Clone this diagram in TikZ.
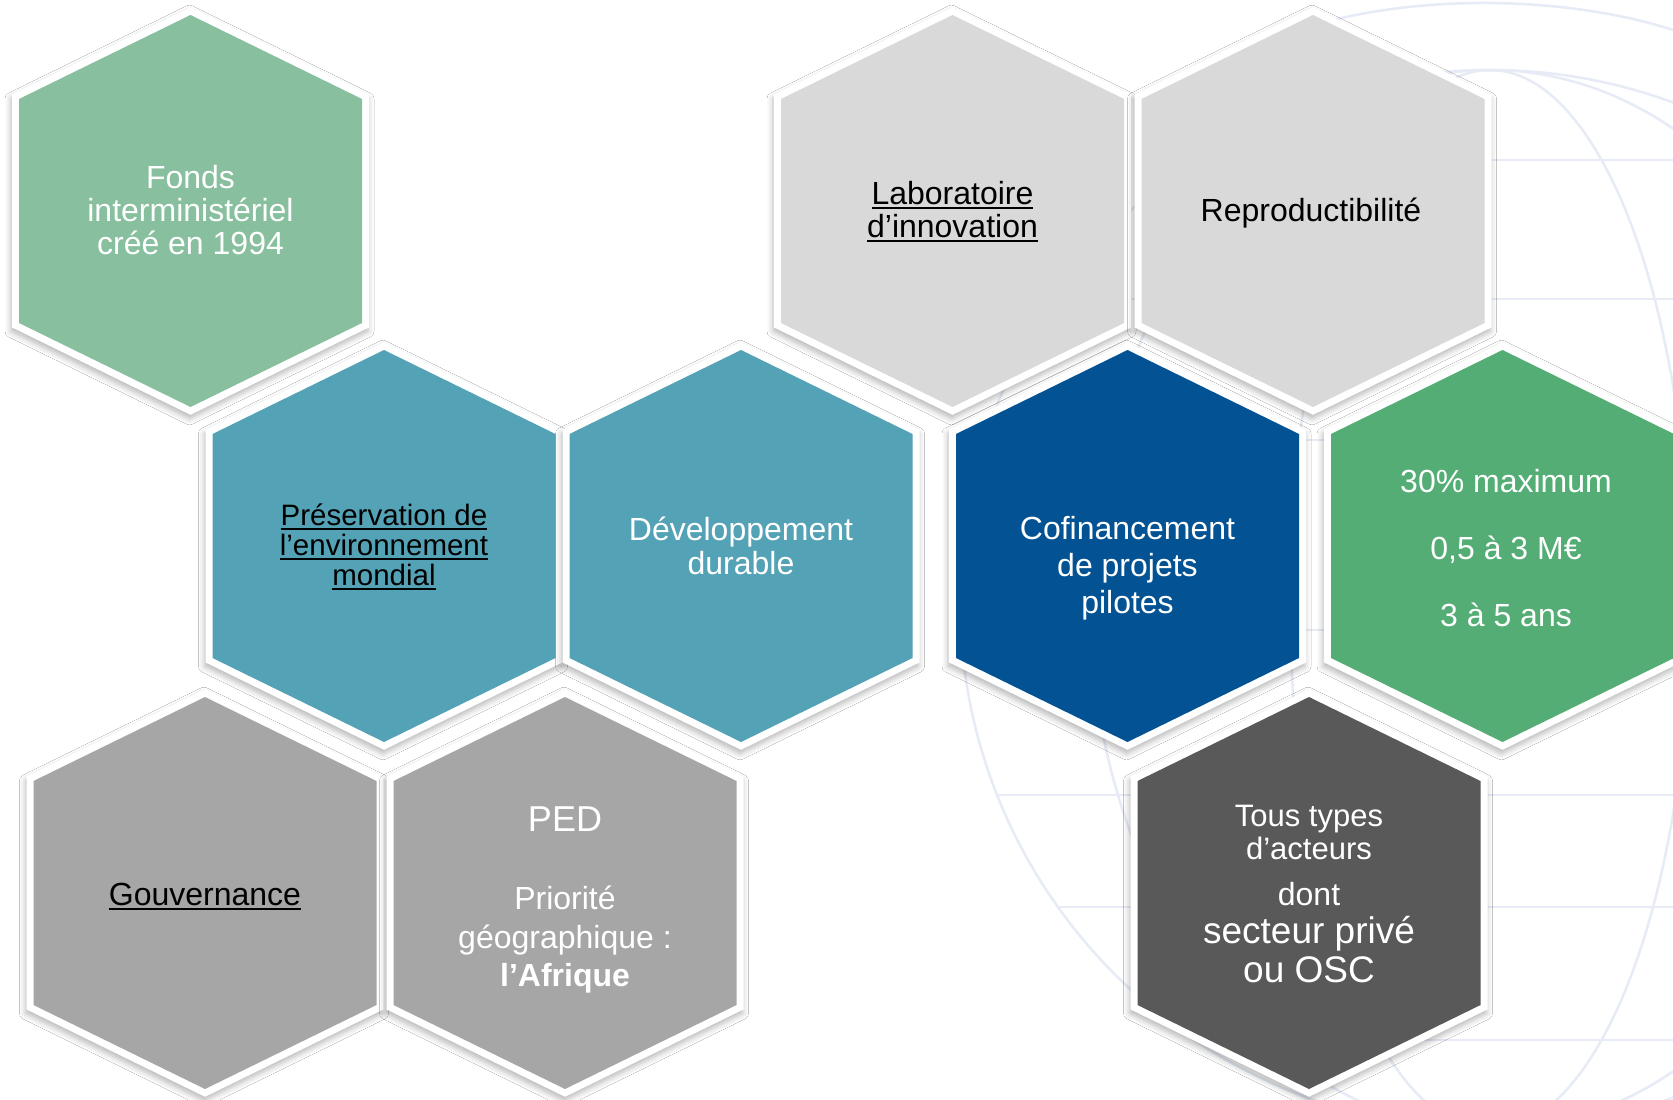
\documentclass[tikz,border=0pt]{standalone}
\usepackage{fontspec}
\setmainfont{Liberation Sans}
\usetikzlibrary{shadows.blur}
\definecolor{sage}{RGB}{136,191,159}
\definecolor{teal}{RGB}{84,162,182}
\definecolor{lgray}{RGB}{217,217,217}
\definecolor{navy}{RGB}{3,82,147}
\definecolor{leaf}{RGB}{83,173,116}
\definecolor{mgray}{RGB}{166,166,166}
\definecolor{dgray}{RGB}{89,89,89}
\definecolor{globec}{RGB}{230,235,245}
\newcommand\ulx[1]{\leavevmode\setbox0\hbox{#1}\rlap{\rule[-4.5pt]{\wd0}{2pt}}\box0}
\newcommand\hexcell[3]{%
  \fill[white, blur shadow={shadow xshift=-1pt, shadow yshift=-4pt, shadow blur radius=6pt, shadow opacity=28}]
   ({#1-178.5},{#2-116.4}) -- ({#1},{#2-203.8}) -- ({#1+178.5},{#2-116.4}) -- ({#1+178.5},{#2+116.4}) -- ({#1},{#2+203.8}) -- ({#1-178.5},{#2+116.4}) -- cycle;
  \fill[#3] ({#1-171.5},{#2-112}) -- ({#1},{#2-196}) -- ({#1+171.5},{#2-112}) -- ({#1+171.5},{#2+112}) -- ({#1},{#2+196}) -- ({#1-171.5},{#2+112}) -- cycle;
}
\begin{document}
\begin{tikzpicture}[x=1pt,y=-1pt,
  lbl/.style={align=center, font=\fontsize{32}{33}\selectfont, inner sep=0pt},
  globe/.style={draw=globec, line width=2.5pt}]
\useasboundingbox (0,0) rectangle (1673,1100);
\fill[white] (0,0) rectangle (1673,1100);
% background globe
\begin{scope}
\clip (0,0) rectangle (1673,1100);
\draw[globe] (1490,600) circle [radius=530];
\draw[globe] (1490,600) ellipse [x radius=200, y radius=530];
\draw[globe] (1490,600) ellipse [x radius=400, y radius=530];
\draw[globe] (1195,160) -- (1673,160);
\draw[globe] (1054,299) -- (1673,299);
\draw[globe] (985,440) -- (1673,440);
\draw[globe] (961,630) -- (1673,630);
\draw[globe] (997,795) -- (1673,795);
\draw[globe] (1058,907) -- (1673,907);
\draw[globe] (1195,1040) -- (1673,1040);
\draw[globe] (1230,60) .. controls (1350,-10) and (1550,-10) .. (1673,30);
\end{scope}
% hexagons
\hexcell{190.5}{211}{sage}
\hexcell{952.5}{211}{lgray}
\hexcell{1313}{211}{lgray}
\hexcell{384}{546}{teal}
\hexcell{741}{546}{teal}
\hexcell{1127.5}{546}{navy}
\hexcell{1502.5}{546}{leaf}
\hexcell{205}{893}{mgray}
\hexcell{565}{893}{mgray}
\hexcell{1309}{893}{dgray}
% texts
\node[lbl, text=white] (fonds) at (190.5,210) {Fonds\\interministériel\\créé en 1994};
\node[lbl] (labo) at (952.5,212) {\ulx{Laboratoire}\\\ulx{d’innovation}};
\node[lbl] (repro) at (1311,213) {Reproductibilité};
\node[lbl, font=\fontsize{29.5}{30}\selectfont] (preserv) at (384,547) {\ulx{Préservation de}\\\ulx{l’environnement}\\\ulx{mondial}};
\node[lbl, text=white, font=\fontsize{32}{34}\selectfont] (dev) at (741,546) {Développement\\durable};
\node[lbl, text=white, font=\fontsize{32}{37}\selectfont] (cof) at (1127.5,568) {Cofinancement\\de projets\\pilotes};
\node[lbl, text=white, font=\fontsize{32}{67}\selectfont] (maxi) at (1506,548) {30\% maximum\\0,5 à 3 M€\\3 à 5 ans};
\node[lbl] (gouv) at (205,897) {\ulx{Gouvernance}};
\node[lbl, text=white, font=\fontsize{36}{40}\selectfont] (ped) at (565,819) {PED};
\node[lbl, text=white, font=\fontsize{32}{38.5}\selectfont] (prio) at (565,940) {Priorité\\géographique :\\\textbf{l’Afrique}};
\node[lbl, text=white, font=\fontsize{31}{33}\selectfont] (tous) at (1309,832) {Tous types\\d’acteurs};
\node[lbl, text=white] (dont) at (1309,894) {dont};
\node[lbl, text=white, font=\fontsize{37}{39}\selectfont] (osc) at (1309,950) {secteur privé\\ou OSC};
\end{tikzpicture}
\end{document}
